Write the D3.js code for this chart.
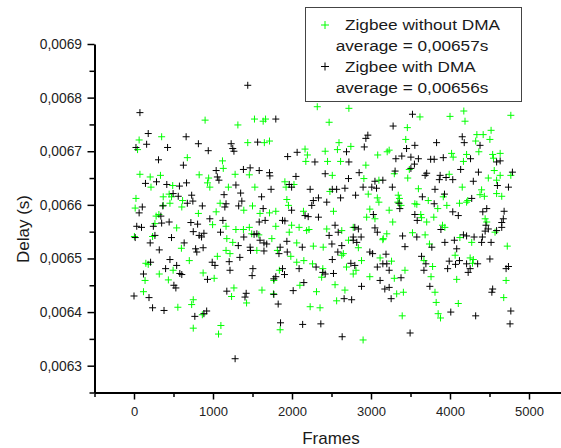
<!DOCTYPE html>
<html>
<head>
<meta charset="utf-8">
<script src="https://cdn.jsdelivr.net/npm/d3@7"></script>
<style>
  body { margin: 0; background: #fff; }
  svg { display: block; font-family: "Liberation Sans", Arial, sans-serif; }
</style>
</head>
<body>
<svg id="chart" width="561" height="448"></svg>
<script>
// [frame, delay in seconds]
const withoutDma = [
  [900,0.006758],[1315,0.006749],[1525,0.006760],[1635,0.006756],[1665,0.006760],[65,0.006721],[350,0.006727],[45,0.006703],
  [1440,0.006716],[1650,0.006716],[1715,0.006719],[675,0.006688],[1120,0.006682],[1130,0.006668],[75,0.006657],[205,0.006652],
  [335,0.006655],[215,0.006633],[490,0.006636],[825,0.006656],[945,0.006650],[930,0.006641],[960,0.006633],[1195,0.006633],
  [1280,0.006657],[1460,0.006656],[1530,0.006633],[1910,0.006643],[1925,0.006633],[2025,0.006638],[25,0.006612],[15,0.006594],
  [370,0.006615],[445,0.006620],[475,0.006615],[455,0.006603],[370,0.006599],[615,0.006608],[605,0.006596],[1090,0.006603],
  [1390,0.006590],[1500,0.006598],[1595,0.006584],[1715,0.006585],[1795,0.006588],[1935,0.006610],[1955,0.006599],[815,0.006584],
  [1040,0.006587],[280,0.006579],[315,0.006582],[5,0.006541],[265,0.006565],[540,0.006557],[235,0.006541],[600,0.006519],
  [995,0.006563],[1165,0.006560],[1290,0.006554],[1385,0.006554],[1175,0.006537],[1250,0.006530],[1165,0.006515],[1215,0.006509],
  [1055,0.006504],[1490,0.006546],[1580,0.006544],[1745,0.006537],[1555,0.006515],[700,0.006496],[495,0.006478],[320,0.006471],
  [150,0.006491],[180,0.006489],[140,0.006459],[435,0.006460],[120,0.006438],[555,0.006409],[750,0.006423],[730,0.006414],
  [865,0.006395],[750,0.006370],[1100,0.006375],[1070,0.006359],[875,0.006473],[1015,0.006463],[1265,0.006445],[1235,0.006429],
  [1425,0.006417],[1620,0.006441],[1765,0.006434],[1850,0.006367],[1770,0.006459],[1840,0.006478],[1815,0.006515],[1985,0.006504],
  [2060,0.006493],[2060,0.006529],[2090,0.006558],[1965,0.006549],[1995,0.006562],[1795,0.006560],[1460,0.006558],
  [2320,0.006783],[2720,0.006780],[2470,0.006754],[3620,0.006764],[4000,0.006765],[4175,0.006775],[4190,0.006756],[4770,0.006767],
  [3460,0.006744],[2595,0.006716],[2745,0.006709],[3440,0.006722],[4340,0.006731],[4420,0.006731],[4520,0.006739],[4505,0.006722],
  [4325,0.006719],[4365,0.006699],[2165,0.006704],[2195,0.006693],[2175,0.006681],[2420,0.006700],[2575,0.006703],[2450,0.006681],
  [2615,0.006681],[3085,0.006693],[3205,0.006699],[3230,0.006702],[4020,0.006696],[4040,0.006689],[4170,0.006681],[4210,0.006694],
  [4540,0.006694],[4550,0.006687],[4635,0.006696],[4560,0.006664],[4485,0.006650],[4590,0.006646],[4635,0.006655],[4770,0.006655],
  [4590,0.006621],[4655,0.006616],[4400,0.006628],[4380,0.006619],[4435,0.006616],[4155,0.006633],[4225,0.006608],[2935,0.006674],
  [2910,0.006649],[2510,0.006655],[2480,0.006625],[2965,0.006620],[3080,0.006613],[3100,0.006605],[3100,0.006646],[3295,0.006658],
  [3465,0.006650],[3485,0.006666],[3990,0.006657],[3600,0.006630],[3915,0.006615],[3345,0.006618],[3360,0.006612],[3340,0.006605],
  [3380,0.006599],[3555,0.006602],[3580,0.006601],[3725,0.006608],[3845,0.006593],[3960,0.006599],[4120,0.006603],[4210,0.006605],
  [4445,0.006574],[4465,0.006568],[2145,0.006588],[2525,0.006588],[2985,0.006592],[2945,0.006577],[3050,0.006574],[3230,0.006590],
  [3275,0.006568],[3630,0.006582],[3640,0.006576],[3705,0.006568],[3795,0.006577],[3905,0.006562],[3935,0.006558],[2440,0.006555],
  [2630,0.006552],[2185,0.006552],[2215,0.006554],[2775,0.006558],[3200,0.006546],[3155,0.006537],[3525,0.006548],[3685,0.006544],
  [4570,0.006549],[2270,0.006523],[2395,0.006521],[2650,0.006509],[2630,0.006506],[2840,0.006520],[2715,0.006534],[3115,0.006501],
  [3150,0.006535],[3260,0.006495],[2880,0.006496],[2690,0.006484],[2810,0.006478],[2775,0.006471],[2150,0.006496],[2260,0.006490],
  [2390,0.006481],[2375,0.006465],[2985,0.006466],[2100,0.006450],[2545,0.006451],[3295,0.006463],[3430,0.006478],[2670,0.006441],
  [2310,0.006438],[2565,0.006421],[3325,0.006434],[3410,0.006437],[2230,0.006410],[2355,0.006408],[3395,0.006393],[2900,0.006348],
  [3740,0.006527],[3670,0.006496],[3780,0.006485],[3760,0.006466],[3810,0.006437],[3825,0.006418],[3850,0.006397],[3880,0.006389],
  [4105,0.006416],[4085,0.006461],[4065,0.006506],[4125,0.006539],[4275,0.006530],[4255,0.006501],[4295,0.006498],[4285,0.006491],
  [4725,0.006523],[4710,0.006459],[4680,0.006427]
];

const withDma = [
  [1440,0.006823],[75,0.006772],[1795,0.006760],[180,0.006733],[660,0.006727],[25,0.006707],[160,0.006713],[425,0.006707],
  [815,0.006714],[940,0.006701],[1230,0.006714],[1250,0.006705],[1265,0.006700],[1565,0.006717],[310,0.006684],[625,0.006674],
  [1040,0.006664],[1385,0.006666],[1470,0.006669],[1585,0.006664],[1715,0.006660],[1720,0.006654],[1945,0.006690],[2065,0.006698],
  [145,0.006640],[285,0.006643],[415,0.006638],[575,0.006635],[665,0.006641],[1055,0.006652],[1075,0.006646],[1290,0.006637],
  [1735,0.006629],[1965,0.006638],[1995,0.006633],[2050,0.006653],[105,0.006596],[65,0.006585],[495,0.006621],[560,0.006616],
  [365,0.006598],[730,0.006618],[745,0.006607],[675,0.006603],[865,0.006598],[1140,0.006619],[1165,0.006602],[1150,0.006596],
  [1350,0.006622],[1365,0.006607],[1325,0.006598],[1615,0.006615],[1635,0.006593],[1995,0.006590],[960,0.006574],[340,0.006579],
  [1880,0.006571],[35,0.006560],[95,0.006558],[15,0.006539],[245,0.006560],[350,0.006566],[445,0.006568],[265,0.006543],
  [205,0.006529],[475,0.006539],[720,0.006567],[805,0.006564],[750,0.006550],[825,0.006543],[885,0.006547],[855,0.006540],
  [635,0.006529],[780,0.006518],[795,0.006512],[875,0.006520],[320,0.006516],[1125,0.006571],[1095,0.006549],[1390,0.006540],
  [1320,0.006524],[990,0.006493],[1025,0.006487],[1520,0.006545],[1555,0.006546],[1595,0.006534],[1645,0.006529],[1680,0.006527],
  [1470,0.006521],[1475,0.006515],[1645,0.006514],[1340,0.006502],[1205,0.006494],[1215,0.006478],[455,0.006498],[400,0.006481],
  [540,0.006487],[580,0.006472],[605,0.006470],[210,0.006493],[120,0.006471],[505,0.006450],[530,0.006445],[0,0.006430],
  [190,0.006427],[235,0.006408],[380,0.006403],[770,0.006392],[885,0.006397],[920,0.006402],[1280,0.006313],[930,0.006461],
  [1175,0.006439],[1420,0.006435],[1405,0.006428],[1505,0.006481],[1495,0.006468],[1770,0.006433],[1825,0.006415],[1855,0.006380],
  [2015,0.006440],[1795,0.006466],[1770,0.006462],[1880,0.006481],[1905,0.006470],[1935,0.006532],[1850,0.006521],[1835,0.006509],
  [1940,0.006512],[2090,0.006481],[1910,0.006570],[1585,0.006568],[1660,0.006571],
  [3525,0.006769],[3280,0.006747],[2960,0.006730],[2935,0.006724],[2915,0.006708],[3555,0.006711],[3830,0.006716],[4155,0.006727],
  [4180,0.006716],[4380,0.006711],[2690,0.006699],[2290,0.006680],[2720,0.006680],[3315,0.006686],[3390,0.006691],[3450,0.006705],
  [3505,0.006689],[3600,0.006686],[3755,0.006685],[3800,0.006685],[3915,0.006688],[4260,0.006686],[4590,0.006680],[4635,0.006682],
  [4790,0.006661],[4740,0.006633],[4600,0.006636],[4295,0.006644],[4360,0.006661],[4135,0.006666],[4275,0.006612],[2850,0.006660],
  [2715,0.006649],[2420,0.006658],[2230,0.006629],[2510,0.006629],[2565,0.006629],[2670,0.006631],[2615,0.006613],[2335,0.006613],
  [2270,0.006608],[2250,0.006599],[2440,0.006605],[2805,0.006618],[2900,0.006633],[3010,0.006633],[3070,0.006631],[3150,0.006646],
  [3050,0.006644],[3270,0.006633],[3305,0.006663],[3505,0.006668],[3550,0.006676],[3705,0.006659],[3685,0.006655],[3875,0.006655],
  [3865,0.006647],[3950,0.006651],[4035,0.006647],[3810,0.006629],[3930,0.006620],[3355,0.006603],[3365,0.006593],[3650,0.006615],
  [3800,0.006602],[4035,0.006587],[4105,0.006580],[4465,0.006593],[4415,0.006587],[4685,0.006588],[4675,0.006574],[4655,0.006567],
  [4455,0.006562],[4485,0.006555],[2165,0.006580],[2205,0.006578],[2335,0.006577],[3030,0.006582],[3555,0.006582],[3585,0.006571],
  [3885,0.006554],[2545,0.006562],[2585,0.006549],[2470,0.006543],[2795,0.006558],[2840,0.006555],[2875,0.006540],[2775,0.006540],
  [3050,0.006557],[3080,0.006549],[3400,0.006542],[3580,0.006540],[4170,0.006544],[4210,0.006542],[4305,0.006540],[4410,0.006540],
  [4655,0.006558],[2130,0.006521],[2505,0.006527],[2630,0.006524],[2580,0.006512],[2775,0.006534],[2820,0.006530],[2985,0.006512],
  [3020,0.006509],[3190,0.006508],[3150,0.006490],[3200,0.006490],[3230,0.006478],[3080,0.006484],[2745,0.006491],[2795,0.006487],
  [2305,0.006484],[2390,0.006474],[2420,0.006471],[2525,0.006472],[2510,0.006498],[2150,0.006455],[3115,0.006459],[2880,0.006448],
  [3175,0.006443],[3230,0.006446],[3380,0.006464],[2660,0.006425],[2755,0.006423],[3255,0.006425],[2135,0.006377],[2365,0.006378],
  [2635,0.006354],[3495,0.006361],[3430,0.006522],[3770,0.006521],[3640,0.006504],[3695,0.006490],[3670,0.006478],[3745,0.006448],
  [4010,0.006400],[3970,0.006481],[3990,0.006495],[4070,0.006489],[4120,0.006496],[4085,0.006518],[3935,0.006530],[4055,0.006534],
  [4400,0.006530],[4210,0.006490],[4255,0.006481],[4230,0.006474],[4350,0.006490],[4505,0.006499],[4445,0.006551],[4520,0.006530],
  [4590,0.006552],[4740,0.006485],[4710,0.006481],[4540,0.006443],[4530,0.006437],[4770,0.006402],[4760,0.006378],[4325,0.006393]
];

const frameTicks = [0, 1000, 2000, 3000, 4000, 5000];
const frameMinorTicks = [-500, 500, 1500, 2500, 3500, 4500];
const delayTicks = [0.0063, 0.0064, 0.0065, 0.0066, 0.0067, 0.0068, 0.0069];
const delayMinorTicks = [0.00625, 0.00635, 0.00645, 0.00655, 0.00665, 0.00675, 0.00685];
const seriesNames = ["Zigbee without DMA", "Zigbee with DMA"];
const seriesAverages = ["average = 0,00657s", "average = 0,00656s"];
const seriesColors = ["#00ff00", "#000000"];

const svg = d3.select("#chart");
svg.append("rect").attr("width", 561).attr("height", 448).attr("fill", "#fff");

const x = d3.scaleLinear().domain([-500, 5500]).range([94.5, 568.5]);
const y = d3.scaleLinear().domain([0.00625, 0.0069]).range([392.5, 44]);
const commaFmt = d => d3.format(".4f")(d).replace(".", ",");

// points first, axes on top
const plus = "M-3.5,0H3.5M0,-3.5V3.5";
[withoutDma, withDma].forEach((series, i) => {
  svg.append("g")
    .selectAll("path")
    .data(series)
    .join("path")
    .attr("d", plus)
    .attr("transform", d => "translate(" + x(d[0]) + "," + y(d[1]) + ")")
    .attr("stroke", seriesColors[i])
    .attr("stroke-width", 1)
    .attr("fill", "none");
});

// x axis
const gx = svg.append("g").attr("transform", "translate(0," + y(0.00625) + ")");
gx.call(d3.axisBottom(x).tickValues(frameTicks).tickSize(7).tickSizeOuter(0).tickFormat(d3.format("d")));
gx.append("g").call(d3.axisBottom(x).tickValues(frameMinorTicks).tickSize(4.5).tickSizeOuter(0).tickFormat(""))
  .select(".domain").remove();
gx.selectAll("text").attr("dy", null).attr("y", 23)
  .attr("font-size", 13).attr("fill", "#222").attr("font-family", null);

// y axis
const gy = svg.append("g").attr("transform", "translate(" + x(-500) + ",0)");
gy.call(d3.axisLeft(y).tickValues(delayTicks).tickSize(7).tickSizeOuter(0).tickPadding(5.5).tickFormat(commaFmt));
gy.append("g").call(d3.axisLeft(y).tickValues(delayMinorTicks).tickSize(5).tickSizeOuter(0).tickFormat(""))
  .select(".domain").remove();
gy.selectAll("text").attr("font-size", 13.8).attr("fill", "#222").attr("font-family", null);

svg.selectAll(".domain").attr("stroke", "#000").attr("stroke-width", 2);
svg.selectAll(".tick line").attr("stroke", "#000").attr("stroke-width", 1.5);

// axis titles
svg.append("text").attr("x", 331).attr("y", 444).attr("text-anchor", "middle")
  .attr("font-size", 17).attr("fill", "#1a1a1a").text("Frames");
svg.append("text").attr("transform", "translate(28.5,229) rotate(-90)").attr("text-anchor", "middle")
  .attr("font-size", 17).attr("fill", "#1a1a1a").text("Delay (s)");

// legend
const legend = svg.append("g");
legend.append("rect").attr("x", 305.5).attr("y", 7.5).attr("width", 216).attr("height", 94)
  .attr("fill", "#fff").attr("stroke", "#444").attr("stroke-width", 1);
const rows = [
  {marker: [325, 25], name: [345, 29.8, 155], avg: [335.7, 50.7, 152.7]},
  {marker: [325, 66.5], name: [345, 72.3, 130.7], avg: [335.7, 92.7, 152.7]}
];
rows.forEach((r, i) => {
  legend.append("path").attr("d", "M-4,0H4M0,-4V4")
    .attr("transform", "translate(" + r.marker[0] + "," + r.marker[1] + ")")
    .attr("stroke", seriesColors[i]).attr("stroke-width", 1).attr("fill", "none");
  legend.append("text").attr("x", r.name[0]).attr("y", r.name[1])
    .attr("textLength", r.name[2]).attr("lengthAdjust", "spacingAndGlyphs")
    .attr("font-size", 15.4).attr("fill", "#1a1a1a").text(seriesNames[i]);
  legend.append("text").attr("x", r.avg[0]).attr("y", r.avg[1])
    .attr("textLength", r.avg[2]).attr("lengthAdjust", "spacingAndGlyphs")
    .attr("font-size", 15.4).attr("fill", "#1a1a1a").text(seriesAverages[i]);
});
</script>
</body>
</html>
